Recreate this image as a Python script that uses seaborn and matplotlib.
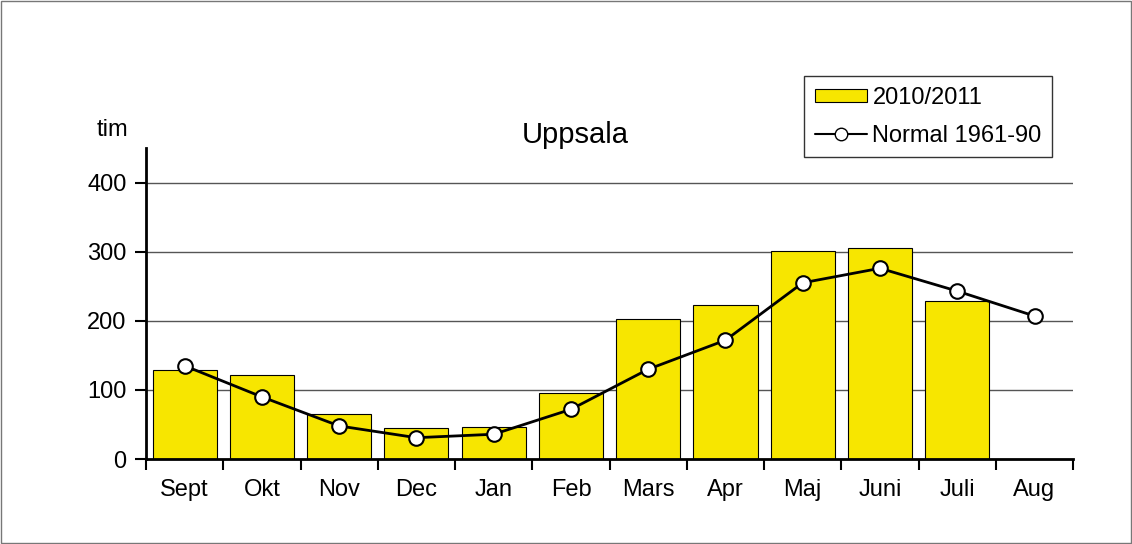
import numpy as np
import pandas as pd
import seaborn as sns
import matplotlib.pyplot as plt
from matplotlib.patches import Rectangle, Patch
from matplotlib.lines import Line2D

# Data (solskenstimmar, Uppsala)
manader = ["Sept", "Okt", "Nov", "Dec", "Jan", "Feb", "Mars", "Apr", "Maj", "Juni", "Juli", "Aug"]
ar_2010_2011 = [129, 122, 65, 45, 47, 96, 202, 223, 301, 305, 229, np.nan]
normal_1961_90 = [135, 90, 48, 31, 36, 72, 130, 172, 255, 276, 243, 207]

df = pd.DataFrame({"manad": manader, "timmar": ar_2010_2011, "normal": normal_1961_90})

sns.set_style("white", {"text.color": "black", "axes.labelcolor": "black",
                        "xtick.color": "black", "ytick.color": "black"})
plt.rcParams["font.family"] = ["Liberation Sans", "DejaVu Sans"]

fig = plt.figure(figsize=(11.32, 5.44), dpi=100)
ax = fig.add_axes([0.129, 0.156, 0.819, 0.572])

gul = "#F7E600"
sns.barplot(data=df, x="manad", y="timmar", color=gul, edgecolor="black",
            linewidth=0.8, width=0.83, saturation=1, ax=ax, zorder=2)
sns.lineplot(data=df, x="manad", y="normal", color="black", linewidth=2,
             marker="o", markersize=10.5, markerfacecolor="white",
             markeredgecolor="black", markeredgewidth=1.5, sort=False, ax=ax, zorder=3)

ax.set_xlim(-0.5, 11.5)
ax.set_ylim(0, 450)
ax.set_yticks([0, 100, 200, 300, 400])
ax.set_xlabel("")
ax.set_ylabel("")
for y in [100, 200, 300, 400]:
    ax.axhline(y, color="#555555", linewidth=1, zorder=1)

for s in ["top", "right"]:
    ax.spines[s].set_visible(False)
for s in ["left", "bottom"]:
    ax.spines[s].set_linewidth(2)
    ax.spines[s].set_color("black")

# y ticks outward, x ticks between categories
ax.tick_params(axis="y", which="major", direction="out", length=8, width=1.5,
               left=True, labelsize=17, pad=6, colors="black")
ax.tick_params(axis="x", which="major", length=0, labelsize=17, pad=14, colors="black")
ax.set_xticks(np.arange(-0.5, 12, 1), minor=True)
ax.tick_params(axis="x", which="minor", direction="out", length=8, width=1.5,
               bottom=True, colors="black")

fig.text(575 / 1132, 1 - 143 / 544, "Uppsala", fontsize=21, ha="center", va="baseline",
         color="black")
fig.text(112 / 1132, 1 - 136 / 544, "tim", fontsize=17, ha="center", va="baseline",
         color="black")

handles = [Patch(facecolor=gul, edgecolor="black", linewidth=0.8),
           Line2D([0], [0], color="black", linewidth=1.5, marker="o", markersize=9,
                  markerfacecolor="white", markeredgecolor="black")]
leg = fig.legend(handles, ["2010/2011", "Normal 1961-90"], loc="upper left",
                 bbox_to_anchor=(804 / 1132, 1 - 76 / 544), fontsize=17, frameon=True,
                 fancybox=False, edgecolor="black", handlelength=2.2, handleheight=0.5,
                 handletextpad=0.25, borderpad=0.45, labelspacing=0.68, borderaxespad=0,
                 labelcolor="black")
leg.get_frame().set_linewidth(1)

fig.patches.append(Rectangle((0.001, 0.002), 0.998, 0.996, transform=fig.transFigure,
                             fill=False, edgecolor="#777777", linewidth=1))

fig.savefig("out.png", dpi=100)
